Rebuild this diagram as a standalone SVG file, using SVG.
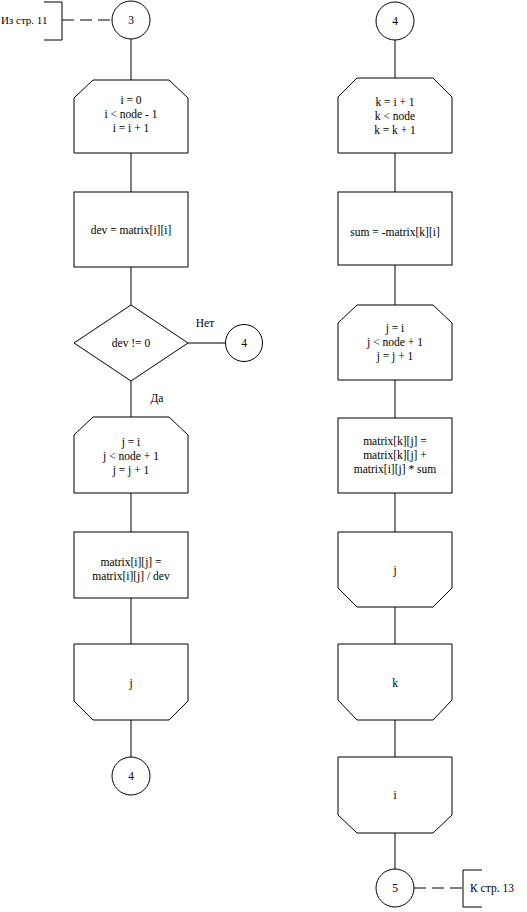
<svg xmlns="http://www.w3.org/2000/svg" width="527" height="912" viewBox="0 0 527 912">
<style>
.s{fill:#fff;stroke:#000;stroke-width:1}
.l{fill:none;stroke:#000;stroke-width:1}
.d{fill:none;stroke:#000;stroke-width:1;stroke-dasharray:12,6}
text{font-family:"Liberation Serif","Times New Roman",serif;font-size:11.5px;fill:#000;text-anchor:middle;dominant-baseline:central}
text.st{text-anchor:start;font-size:11px}
</style>
<rect width="527" height="912" fill="#fff"/>
<g id="connectors">
<line class="l" x1="131" y1="39" x2="131" y2="80"/>
<line class="l" x1="131" y1="153" x2="131" y2="192"/>
<line class="l" x1="131" y1="267" x2="131" y2="305"/>
<line class="l" x1="131" y1="381" x2="131" y2="417"/>
<line class="l" x1="131" y1="493" x2="131" y2="532"/>
<line class="l" x1="131" y1="598" x2="131" y2="644"/>
<line class="l" x1="131" y1="720" x2="131" y2="757"/>
<line class="l" x1="188" y1="343" x2="226" y2="343"/>
<line class="d" x1="62" y1="20" x2="112" y2="20"/>
<line class="l" x1="395" y1="40" x2="395" y2="78"/>
<line class="l" x1="395" y1="153" x2="395" y2="192"/>
<line class="l" x1="395" y1="265" x2="395" y2="305"/>
<line class="l" x1="395" y1="380" x2="395" y2="418"/>
<line class="l" x1="395" y1="493" x2="395" y2="532"/>
<line class="l" x1="395" y1="607" x2="395" y2="644"/>
<line class="l" x1="395" y1="720" x2="395" y2="757"/>
<line class="l" x1="395" y1="833" x2="395" y2="869"/>
<line class="d" x1="414" y1="888" x2="463" y2="888"/>
<text x="205" y="323">Нет</text>
<text x="157" y="398">Да</text>
</g>
<g id="from11">
<path class="l" d="M44,2 H62 V40 H44"/>
<text class="st" x="1" y="20">Из стр. 11</text>
</g>
<g id="c3">
<circle class="s" cx="131" cy="20" r="19"/>
<text x="131" y="20">3</text>
</g>
<g id="loop_i">
<path class="s" d="M74,98 L93,80 H169 L188,98 V153 H74 Z"/>
<text x="131" y="100">i = 0</text>
<text x="131" y="114">i &lt; node - 1</text>
<text x="131" y="128">i = i + 1</text>
</g>
<g id="dev">
<rect class="s" x="74" y="192" width="114" height="75"/>
<text x="131" y="230">dev = matrix[i][i]</text>
</g>
<g id="cond">
<path class="s" d="M131,305 L188,343 L131,381 L74,343 Z"/>
<text x="131" y="343">dev != 0</text>
</g>
<g id="c4a">
<circle class="s" cx="244" cy="343" r="18.5"/>
<text x="244" y="343">4</text>
</g>
<g id="loop_j1">
<path class="s" d="M74,435 L93,417 H169 L188,435 V493 H74 Z"/>
<text x="131" y="442">j = i</text>
<text x="131" y="456">j &lt; node + 1</text>
<text x="131" y="470">j = j + 1</text>
</g>
<g id="div">
<rect class="s" x="74" y="532" width="114" height="66"/>
<text x="131" y="562">matrix[i][j] =</text>
<text x="131" y="576">matrix[i][j] / dev</text>
</g>
<g id="end_j1">
<path class="s" d="M74,644 H188 V701 L169,720 H93 L74,701 Z"/>
<text x="131" y="683">j</text>
</g>
<g id="c4b">
<circle class="s" cx="131" cy="776" r="19"/>
<text x="131" y="776">4</text>
</g>
<g id="c4c">
<circle class="s" cx="395" cy="21" r="19"/>
<text x="395" y="21">4</text>
</g>
<g id="loop_k">
<path class="s" d="M338,97 L357,78 H433 L452,97 V153 H338 Z"/>
<text x="395" y="102">k = i + 1</text>
<text x="395" y="116">k &lt; node</text>
<text x="395" y="130">k = k + 1</text>
</g>
<g id="sum">
<rect class="s" x="338" y="192" width="114" height="73"/>
<text x="395" y="232">sum = -matrix[k][i]</text>
</g>
<g id="loop_j2">
<path class="s" d="M338,323 L357,305 H433 L452,323 V380 H338 Z"/>
<text x="395" y="328">j = i</text>
<text x="395" y="342">j &lt; node + 1</text>
<text x="395" y="356">j = j + 1</text>
</g>
<g id="upd">
<rect class="s" x="338" y="418" width="114" height="75"/>
<text x="395" y="441">matrix[k][j] =</text>
<text x="395" y="455">matrix[k][j] +</text>
<text x="395" y="469">matrix[i][j] * sum</text>
</g>
<g id="end_j2">
<path class="s" d="M338,532 H452 V588 L433,607 H357 L338,588 Z"/>
<text x="395" y="570">j</text>
</g>
<g id="end_k">
<path class="s" d="M338,644 H452 V700 L433,720 H357 L338,700 Z"/>
<text x="395" y="683">k</text>
</g>
<g id="end_i">
<path class="s" d="M338,757 H452 V815 L433,833 H357 L338,815 Z"/>
<text x="395" y="795">i</text>
</g>
<g id="c5">
<circle class="s" cx="395" cy="888" r="19"/>
<text x="395" y="888">5</text>
</g>
<g id="to13">
<path class="l" d="M482,870 H463 V907 H482"/>
<text x="492" y="888">К стр. 13</text>
</g>
</svg>
